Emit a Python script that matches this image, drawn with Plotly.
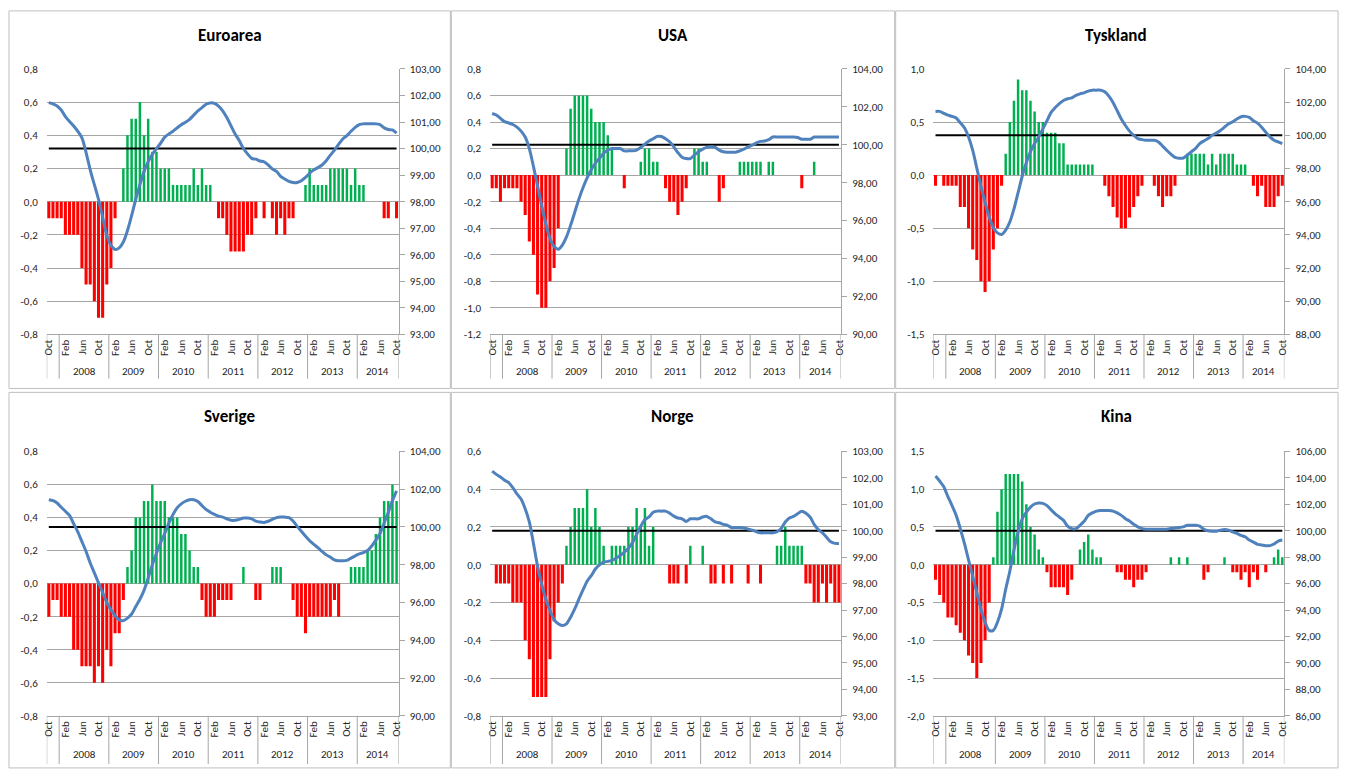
import plotly.graph_objects as go

W, H = 1349, 771

# ---------------- data ----------------
start_year, start_month = 2007, 10          # first category: Oct 2007
n_months = 85                               # Oct 2007 .. Oct 2014
month_tick_text = ["Oct"] + ["Feb", "Jun", "Oct"] * 7
year_labels = ["2008", "2009", "2010", "2011", "2012", "2013", "2014"]
baseline = 100

titles = ["Euroarea", "USA", "Tyskland", "Sverige", "Norge", "Kina"]

euro_bars = [-0.1, -0.1, -0.1, -0.1, -0.2, -0.2, -0.2, -0.2, -0.4, -0.5,
             -0.5, -0.6, -0.7, -0.7, -0.5, -0.4, -0.1, 0, 0.2, 0.4,
             0.5, 0.5, 0.6, 0.4, 0.5, 0.3, 0.3, 0.2, 0.2, 0.2,
             0.1, 0.1, 0.1, 0.1, 0.1, 0.2, 0.1, 0.2, 0.1, 0.1,
             0, -0.1, -0.1, -0.2, -0.3, -0.3, -0.3, -0.3, -0.2, -0.2,
             -0.1, 0, -0.1, 0, -0.1, -0.2, -0.1, -0.2, -0.1, -0.1,
             0, 0, 0.1, 0.2, 0.1, 0.1, 0.1, 0.1, 0.2, 0.2,
             0.2, 0.2, 0.2, 0.1, 0.2, 0.1, 0.1, 0, 0, 0,
             0, -0.1, -0.1, 0, -0.1]
euro_index = [101.73, 101.68, 101.6, 101.45, 101.2, 101.02, 100.85, 100.65, 100.4, 99.85,
              99.2, 98.64, 98.09, 97.41, 96.73, 96.36, 96.2, 96.26, 96.48, 96.91,
              97.47, 98.09, 98.64, 99.14, 99.51, 99.78, 100.0, 100.2, 100.43, 100.55,
              100.65, 100.78, 100.9, 100.99, 101.1, 101.26, 101.42, 101.54, 101.67, 101.72,
              101.7, 101.6, 101.42, 101.17, 100.86, 100.55, 100.3, 100.0, 99.8, 99.63,
              99.6, 99.53, 99.5, 99.38, 99.23, 99.14, 98.95, 98.85, 98.76, 98.72,
              98.72, 98.79, 98.91, 99.07, 99.2, 99.28, 99.38, 99.54, 99.75, 99.94,
              100.16, 100.36, 100.49, 100.65, 100.8, 100.9, 100.93, 100.93, 100.93, 100.93,
              100.9, 100.78, 100.72, 100.7, 100.58]

usa_bars = [-0.1, -0.1, -0.2, -0.1, -0.1, -0.1, -0.1, -0.2, -0.3, -0.5,
            -0.6, -0.9, -1.0, -1.0, -0.8, -0.7, -0.4, 0, 0.2, 0.5,
            0.6, 0.6, 0.6, 0.6, 0.5, 0.4, 0.4, 0.4, 0.3, 0.2,
            0, 0, -0.1, 0, 0, 0, 0.1, 0.2, 0.2, 0.1,
            0.1, 0, -0.1, -0.2, -0.2, -0.3, -0.2, -0.1, 0, 0.2,
            0.2, 0.1, 0.1, 0, 0, -0.2, -0.1, 0, 0, 0,
            0.1, 0.1, 0.1, 0.1, 0.1, 0.1, 0, 0.1, 0.1, 0,
            0, 0, 0, 0, 0, -0.1, 0, 0, 0.1, 0,
            0, 0, 0, 0, 0]
usa_index = [101.65, 101.57, 101.39, 101.22, 101.15, 101.07, 100.93, 100.72, 100.41, 99.8,
             98.86, 97.82, 96.78, 95.83, 95.06, 94.63, 94.49, 94.71, 95.14, 95.75,
             96.44, 97.13, 97.73, 98.25, 98.68, 99.03, 99.29, 99.55, 99.72, 99.8,
             99.8, 99.8, 99.68, 99.68, 99.68, 99.72, 99.86, 100.03, 100.2, 100.32,
             100.44, 100.44, 100.32, 100.15, 99.89, 99.58, 99.34, 99.27, 99.27, 99.46,
             99.63, 99.77, 99.86, 99.89, 99.86, 99.72, 99.63, 99.61, 99.61, 99.61,
             99.68, 99.77, 99.89, 99.98, 100.1, 100.18, 100.2, 100.27, 100.41, 100.41,
             100.41, 100.41, 100.41, 100.41, 100.38, 100.29, 100.29, 100.29, 100.41, 100.41,
             100.41, 100.41, 100.41, 100.41, 100.41]

ger_bars = [-0.1, 0, -0.1, -0.1, -0.1, -0.1, -0.3, -0.3, -0.5, -0.7,
            -0.8, -1.0, -1.1, -1.0, -0.7, -0.5, -0.1, 0.2, 0.5, 0.7,
            0.9, 0.8, 0.8, 0.7, 0.6, 0.5, 0.5, 0.4, 0.4, 0.4,
            0.3, 0.3, 0.1, 0.1, 0.1, 0.1, 0.1, 0.1, 0.1, 0,
            0, -0.1, -0.2, -0.3, -0.4, -0.5, -0.5, -0.4, -0.3, -0.2,
            -0.1, 0, 0, -0.1, -0.2, -0.3, -0.2, -0.2, -0.1, 0,
            0, 0.2, 0.2, 0.2, 0.2, 0.2, 0.1, 0.2, 0.1, 0.2,
            0.2, 0.2, 0.2, 0.1, 0.1, 0.1, 0, -0.1, -0.2, -0.1,
            -0.3, -0.3, -0.3, -0.2, -0.1]
ger_index = [101.44, 101.44, 101.32, 101.22, 101.14, 101.04, 100.75, 100.45, 99.9, 99.1,
             98.02, 96.94, 95.95, 95.07, 94.43, 94.12, 94.02, 94.28, 94.77, 95.56,
             96.54, 97.53, 98.36, 99.01, 99.5, 99.9, 100.39, 100.88, 101.38, 101.67,
             101.91, 102.1, 102.2, 102.26, 102.4, 102.5, 102.56, 102.66, 102.72, 102.72,
             102.72, 102.62, 102.36, 101.97, 101.48, 100.98, 100.59, 100.25, 100.0, 99.8,
             99.74, 99.7, 99.7, 99.7, 99.6, 99.35, 99.1, 98.87, 98.67, 98.62,
             98.62, 98.81, 99.01, 99.21, 99.5, 99.66, 99.8, 100.0, 100.13, 100.29,
             100.49, 100.69, 100.82, 100.98, 101.12, 101.14, 101.08, 100.88, 100.73, 100.49,
             100.19, 99.9, 99.7, 99.6, 99.5]

swe_bars = [-0.2, -0.1, -0.1, -0.2, -0.2, -0.2, -0.4, -0.4, -0.5, -0.5,
            -0.5, -0.6, -0.5, -0.6, -0.4, -0.5, -0.3, -0.3, -0.1, 0.1,
            0.2, 0.4, 0.4, 0.5, 0.5, 0.6, 0.5, 0.5, 0.5, 0.4,
            0.4, 0.4, 0.3, 0.3, 0.2, 0.1, 0.1, -0.1, -0.2, -0.2,
            -0.2, -0.1, -0.1, -0.1, -0.1, 0, 0, 0.1, 0, 0,
            -0.1, -0.1, 0, 0, 0.1, 0.1, 0.1, 0, 0, -0.1,
            -0.2, -0.2, -0.3, -0.2, -0.2, -0.2, -0.2, -0.2, -0.2, -0.1,
            -0.2, 0, 0, 0.1, 0.1, 0.1, 0.1, 0.2, 0.2, 0.3,
            0.4, 0.5, 0.5, 0.6, 0.5]
swe_index = [101.44, 101.39, 101.27, 101.04, 100.83, 100.61, 100.17, 99.74, 99.22, 98.7,
             98.09, 97.57, 97.04, 96.52, 96.0, 95.62, 95.3, 95.08, 95.04, 95.17,
             95.39, 95.79, 96.17, 96.64, 97.3, 98.0, 98.61, 99.17, 99.65, 100.21,
             100.66, 101.01, 101.22, 101.36, 101.44, 101.44, 101.34, 101.13, 100.92, 100.78,
             100.66, 100.57, 100.52, 100.43, 100.35, 100.35, 100.4, 100.47, 100.47, 100.43,
             100.31, 100.26, 100.24, 100.3, 100.4, 100.49, 100.52, 100.52, 100.49, 100.31,
             100.03, 99.77, 99.51, 99.27, 99.08, 98.9, 98.7, 98.52, 98.4, 98.26,
             98.21, 98.21, 98.23, 98.35, 98.47, 98.57, 98.64, 98.75, 98.99, 99.3,
             99.65, 100.21, 100.78, 101.39, 101.91]

nor_bars = [0, -0.1, -0.1, -0.1, -0.1, -0.2, -0.2, -0.2, -0.4, -0.5,
            -0.7, -0.7, -0.7, -0.7, -0.5, -0.3, -0.2, -0.1, 0.1, 0.2,
            0.3, 0.3, 0.3, 0.4, 0.2, 0.3, 0.2, 0.1, 0, 0.1,
            0.1, 0.1, 0.1, 0.2, 0.2, 0.3, 0.2, 0.3, 0.1, 0.2,
            0, 0, 0, -0.1, -0.1, -0.1, 0, -0.1, 0.1, 0,
            0, 0.1, 0, -0.1, -0.1, 0, -0.1, 0, -0.1, 0,
            0, 0, -0.1, 0, 0, -0.1, 0, 0, 0, 0.1,
            0.1, 0.2, 0.1, 0.1, 0.1, 0.1, -0.1, -0.1, -0.2, -0.2,
            -0.1, -0.2, -0.1, -0.2, -0.2]
nor_index = [102.25, 102.13, 102.03, 101.91, 101.82, 101.63, 101.39, 101.2, 100.83, 100.33,
             99.52, 98.65, 97.97, 97.41, 96.98, 96.64, 96.48, 96.42, 96.48, 96.73,
             97.04, 97.41, 97.76, 98.09, 98.3, 98.55, 98.71, 98.81, 98.84, 98.88,
             98.96, 99.06, 99.19, 99.34, 99.55, 99.87, 100.17, 100.42, 100.52, 100.7,
             100.74, 100.74, 100.74, 100.66, 100.55, 100.48, 100.45, 100.35, 100.45, 100.45,
             100.45, 100.52, 100.54, 100.45, 100.33, 100.3, 100.24, 100.2, 100.12, 100.12,
             100.12, 100.1, 100.06, 100.02, 99.96, 99.92, 99.92, 99.92, 99.92, 99.96,
             100.08, 100.33, 100.48, 100.54, 100.64, 100.74, 100.66, 100.52, 100.24, 100.04,
             99.92, 99.75, 99.58, 99.52, 99.52]

chn_bars = [-0.2, -0.4, -0.5, -0.7, -0.7, -0.8, -0.9, -1.0, -1.2, -1.3,
            -1.5, -1.3, -1.0, -0.5, 0.1, 0.7, 1.0, 1.2, 1.2, 1.2,
            1.2, 1.1, 0.8, 0.5, 0.4, 0.2, 0.1, -0.1, -0.3, -0.3,
            -0.3, -0.3, -0.4, -0.2, 0, 0.2, 0.3, 0.4, 0.2, 0.1,
            0.1, 0, 0, 0, -0.1, -0.1, -0.2, -0.2, -0.3, -0.2,
            -0.2, -0.1, 0, 0, 0, 0, 0, 0.1, 0, 0.1,
            0, 0.1, 0, 0, 0, -0.2, -0.1, 0, 0, 0,
            0.1, 0, -0.1, -0.1, -0.2, -0.1, -0.3, -0.1, -0.2, 0,
            -0.1, 0, 0.1, 0.2, 0.1]
chn_index = [104.14, 103.76, 103.32, 102.57, 101.9, 101.16, 100.16, 99.04, 97.8, 96.56,
             95.32, 94.07, 93.08, 92.46, 92.46, 93.08, 94.07, 95.57, 96.93, 98.55,
             99.91, 100.9, 101.4, 101.78, 102.02, 102.1, 102.07, 101.9, 101.58, 101.28,
             101.03, 100.78, 100.34, 100.16, 100.16, 100.41, 100.71, 101.16, 101.35, 101.48,
             101.53, 101.53, 101.53, 101.48, 101.35, 101.16, 100.91, 100.73, 100.48, 100.29,
             100.16, 100.11, 100.11, 100.11, 100.11, 100.11, 100.11, 100.16, 100.21, 100.24,
             100.29, 100.41, 100.41, 100.41, 100.34, 100.11, 99.99, 99.96, 99.96, 100.04,
             100.09, 100.04, 99.91, 99.79, 99.64, 99.54, 99.29, 99.14, 98.97, 98.92,
             98.87, 98.87, 98.99, 99.22, 99.29]

left_ticks = [
    [-0.8, -0.6, -0.4, -0.2, 0.0, 0.2, 0.4, 0.6, 0.8],
    [-1.2, -1.0, -0.8, -0.6, -0.4, -0.2, 0.0, 0.2, 0.4, 0.6, 0.8],
    [-1.5, -1.0, -0.5, 0.0, 0.5, 1.0],
    [-0.8, -0.6, -0.4, -0.2, 0.0, 0.2, 0.4, 0.6, 0.8],
    [-0.8, -0.6, -0.4, -0.2, 0.0, 0.2, 0.4, 0.6],
    [-2.0, -1.5, -1.0, -0.5, 0.0, 0.5, 1.0, 1.5],
]
right_ticks = [
    [93, 94, 95, 96, 97, 98, 99, 100, 101, 102, 103],
    [90, 92, 94, 96, 98, 100, 102, 104],
    [88, 90, 92, 94, 96, 98, 100, 102, 104],
    [90, 92, 94, 96, 98, 100, 102, 104],
    [93, 94, 95, 96, 97, 98, 99, 100, 101, 102, 103],
    [86, 88, 90, 92, 94, 96, 98, 100, 102, 104, 106],
]
bars_all = [euro_bars, usa_bars, ger_bars, swe_bars, nor_bars, chn_bars]
index_all = [euro_index, usa_index, ger_index, swe_index, nor_index, chn_index]
for b, l in zip(bars_all, index_all):
    assert len(b) == n_months and len(l) == n_months

# ---------------- styling / layout ----------------
RED, GREEN, BLUE = "#FF0000", "#00B050", "#4F81BD"
GRID = "#A6A6A6"
BORDER = "#BFBFBF"
TXT = "#262626"
FONT = "Carlito, Lato, 'Liberation Sans', sans-serif"

col_left = [43, 489, 935]
col_right = [397, 842, 1288]
row_top = [64, 453]
row_bot = [334, 722]
row_year_y = [372, 761]
row_div_bot = [379, 771]
row_title_y = [30, 418]
panel_edges_x = [5, 449, 896, 1342]
row_box = [(5, 389), (393, 775)]


def px(x):
    return x / W


def py(y):
    return 1 - y / H


def f1(v):
    return f"{v:.1f}".replace(".", ",")


def f2(v):
    return f"{v:.2f}".replace(".", ",")


def nm(prefix, n):
    return prefix if n == 1 else f"{prefix}{n}"


x_idx = list(range(n_months))
tick_pos = list(range(0, n_months, 4))

# year groups derived from calendar
cal = [(start_year + (start_month - 1 + i) // 12) for i in x_idx]
group_bounds = [-0.5]
for i in range(1, n_months):
    if cal[i] != cal[i - 1]:
        group_bounds.append(i - 0.5)
group_bounds.append(n_months - 0.5)
year_centers = []
for y in year_labels:
    ids = [i for i in x_idx if str(cal[i]) == y]
    year_centers.append((ids[0] + ids[-1]) / 2)

fig = go.Figure()
layout = dict(
    width=W, height=H, margin=dict(l=0, r=0, t=0, b=0),
    paper_bgcolor="white", plot_bgcolor="white", showlegend=False,
    barmode="overlay", font=dict(family=FONT, size=11, color=TXT),
)
shapes, annotations = [], []

for k in range(6):
    r, c = divmod(k, 3)
    xn, yl, yr = k + 1, 2 * k + 1, 2 * k + 2
    xref, ylref, yrref = nm("x", xn), nm("y", yl), nm("y", yr)
    bars = bars_all[k]
    neg = [v if v < 0 else None for v in bars]
    pos = [v if v > 0 else None for v in bars]
    fig.add_trace(go.Bar(x=x_idx, y=neg, marker_color=RED, width=0.74,
                         xaxis=xref, yaxis=ylref, marker_line_width=0))
    fig.add_trace(go.Bar(x=x_idx, y=pos, marker_color=GREEN, width=0.6,
                         xaxis=xref, yaxis=ylref, marker_line_width=0))
    fig.add_trace(go.Scatter(x=x_idx, y=[baseline] * n_months, mode="lines",
                             line=dict(color="black", width=2),
                             xaxis=xref, yaxis=yrref))
    fig.add_trace(go.Scatter(x=x_idx, y=index_all[k], mode="lines",
                             line=dict(color=BLUE, width=3, shape="spline", smoothing=0.8),
                             xaxis=xref, yaxis=yrref))

    lt, rt = left_ticks[k], right_ticks[k]
    layout[nm("xaxis", xn)] = dict(
        domain=[px(col_left[c]), px(col_right[c])], anchor=ylref,
        range=[-0.5, n_months - 0.5], tickmode="array", tickvals=tick_pos,
        ticktext=month_tick_text, tickangle=-90, showgrid=False, zeroline=False,
        showline=True, linecolor=GRID, linewidth=1, ticks="",
        tickfont=dict(size=11, color=TXT), fixedrange=True)
    layout[nm("yaxis", yl)] = dict(
        domain=[py(row_bot[r]), py(row_top[r])], anchor=xref,
        range=[lt[0], lt[-1]], tickmode="array", tickvals=lt,
        ticktext=[f1(v) for v in lt], showgrid=True, gridcolor=GRID, gridwidth=1,
        zeroline=False, showline=False, ticks="", ticklabelstandoff=8,
        tickfont=dict(size=11, color=TXT), fixedrange=True)
    layout[nm("yaxis", yr)] = dict(
        overlaying=ylref, side="right", anchor=xref,
        range=[rt[0], rt[-1]], tickmode="array", tickvals=rt,
        ticktext=[f2(v) for v in rt], showgrid=False, zeroline=False,
        showline=True, linecolor=GRID, linewidth=1, ticks="outside",
        ticklen=5, tickcolor=GRID, ticklabelstandoff=3,
        tickfont=dict(size=11, color=TXT), fixedrange=True)

    # category group dividers
    for b in group_bounds:
        shapes.append(dict(type="line", xref=xref, yref="paper", x0=b, x1=b,
                           y0=py(row_bot[r]), y1=py(row_div_bot[r]),
                           line=dict(color=GRID, width=1)))
    for yl_txt, xc in zip(year_labels, year_centers):
        annotations.append(dict(xref=xref, yref="paper", x=xc, y=py(row_year_y[r]),
                                xanchor="center", yanchor="middle",
                                text=yl_txt, showarrow=False,
                                font=dict(size=11, color=TXT)))
    # title
    annotations.append(dict(xref="paper", yref="paper",
                            x=px((panel_edges_x[c] + panel_edges_x[c + 1]) / 2),
                            y=py(row_title_y[r]), xanchor="center", yanchor="middle",
                            text=f"<b>{titles[k]}</b>",
                            showarrow=False, font=dict(size=17, color="black")))
    # panel border
    y0b, y1b = row_box[r]
    shapes.append(dict(type="rect", xref="paper", yref="paper",
                       x0=px(panel_edges_x[c] + (1 if c else 0)), x1=px(panel_edges_x[c + 1]),
                       y0=py(y1b), y1=py(y0b), line=dict(color=BORDER, width=1),
                       fillcolor="rgba(0,0,0,0)", layer="below"))

layout["shapes"] = shapes
layout["annotations"] = annotations
fig.update_layout(**layout)
fig.write_html(
    "out.html",
    config={"displayModeBar": False, "staticPlot": True},
    post_script=(
        "var d=document.getElementById('{plot_id}');"
        "d.style.position='fixed';d.style.top='0';d.style.left='0';"
        "document.body.style.margin='0';"
        "document.documentElement.style.overflow='hidden';"
        "document.body.style.overflow='hidden';"
    ),
)
